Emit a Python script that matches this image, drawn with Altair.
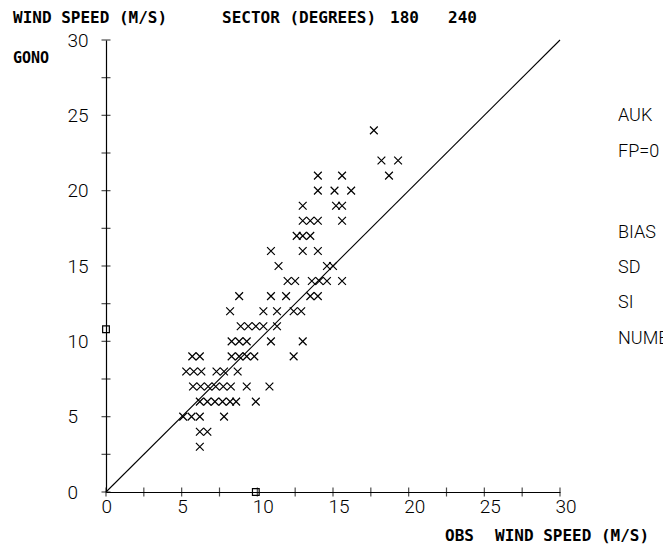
import altair as alt
import pandas as pd

# ---- data ----
gono_levels = [3, 4, 5, 6, 7, 8, 9, 10, 11, 12, 13, 14, 15, 16, 17, 18, 19, 20, 21, 22, 24]
obs_by_level = [
    [6.2],
    [6.2, 6.7],
    [5.1, 5.65, 6.2, 7.8],
    [6.2, 6.7, 7.2, 7.7, 8.2, 8.6, 9.9],
    [5.75, 6.25, 6.75, 7.25, 7.75, 8.25, 9.3, 10.8],
    [5.3, 5.8, 6.3, 7.3, 7.8, 8.7],
    [5.7, 6.2, 8.3, 8.8, 9.3, 9.8, 12.4],
    [8.3, 8.8, 9.3, 10.9, 13.0],
    [8.9, 9.4, 9.9, 10.4, 11.3],
    [8.2, 10.4, 11.3, 12.4, 12.9],
    [8.8, 10.9, 11.9, 13.5, 14.0],
    [12.0, 12.5, 13.6, 14.1, 14.6, 15.6],
    [11.4, 14.6, 15.0],
    [10.9, 13.0, 14.0],
    [12.6, 13.0, 13.5],
    [13.0, 13.5, 14.0, 15.6],
    [13.0, 15.2, 15.6],
    [14.0, 15.1, 16.2],
    [14.0, 15.6, 18.7],
    [18.2, 19.3],
    [17.7],
]
mean_obs = [9.9, 0.0]
mean_gono = [0.0, 10.8]
line_x = [0, 30]
line_y = [0, 30]
tick_values = [0, 2.5, 5, 7.5, 10, 12.5, 15, 17.5, 20, 22.5, 25, 27.5, 30]
label_values = [0, 5, 10, 15, 20, 25, 30]
right_labels = ["AUK", "FP=0", "BIAS", "SD", "SI", "NUMBER"]

# ---- tables ----
obs_list, gono_list = [], []
for lev, xs in zip(gono_levels, obs_by_level):
    for v in xs:
        obs_list.append(v)
        gono_list.append(lev)
pts = pd.DataFrame({"obs": obs_list, "gono": gono_list})
diag = pd.DataFrame({"obs": line_x, "gono": line_y})
means = pd.DataFrame({"obs": mean_obs, "gono": mean_gono})
ticks = pd.DataFrame({"v": tick_values})

LIGHT = "Roboto"
BOLD = "DejaVu Sans Mono"

xscale = alt.Scale(domain=[0, 30], nice=False, zero=False)
yscale = alt.Scale(domain=[0, 30], nice=False, zero=False)

xaxis = alt.Axis(values=label_values, title=None, grid=False, tickSize=0, ticks=False,
                 labelAlign="left", labelOffset=-5, labelPadding=5, labelBaseline="top",
                 labelFont=LIGHT, labelFontSize=19, labelFontWeight=300, labelColor="black",
                 domainColor="black", domainWidth=1.2, labelFlush=False)
yaxis = alt.Axis(values=label_values, title=None, grid=False, tickSize=0, ticks=False,
                 labelAlign="left", labelPadding=39, labelBaseline="middle",
                 labelFont=LIGHT, labelFontSize=19, labelFontWeight=300, labelColor="black",
                 domainColor="black", domainWidth=1.2, labelFlush=False)

base_x = alt.X("obs:Q", scale=xscale, axis=xaxis)
base_y = alt.Y("gono:Q", scale=yscale, axis=yaxis)

line = alt.Chart(diag).mark_line(color="black", strokeWidth=1.1).encode(x=base_x, y=base_y)

crosses = alt.Chart(pts).mark_point(
    shape="M-1,-1L1,1M-1,1L1,-1", filled=False, color="black", strokeWidth=1.2,
    size=60, opacity=1
).encode(x="obs:Q", y="gono:Q")

squares = alt.Chart(means).mark_point(
    shape="square", filled=False, color="black", strokeWidth=1.2, size=45, opacity=1
).encode(x="obs:Q", y="gono:Q")

yticks = alt.Chart(ticks).mark_tick(orient="horizontal", size=9, thickness=1.2, color="black").encode(
    y=alt.Y("v:Q"), x=alt.datum(0)
)
xticks = alt.Chart(ticks).mark_tick(orient="vertical", size=9, thickness=1.2, color="black").encode(
    x=alt.X("v:Q"), y=alt.datum(0)
)


def txt(s, x, y, font, size, weight, align="left"):
    return alt.Chart(pd.DataFrame({"t": [s]})).mark_text(
        font=font, fontSize=size, fontWeight=weight, align=align, baseline="middle", color="black"
    ).encode(text="t:N", x=alt.value(x), y=alt.value(y))


texts = [
    txt("WIND SPEED (M/S)", -93, -22, BOLD, 16, "bold"),
    txt("SECTOR (DEGREES)", 116, -22, BOLD, 16, "bold"),
    txt("180", 284, -22, BOLD, 16, "bold"),
    txt("240", 342, -22, BOLD, 16, "bold"),
    txt("GONO", -93, 18, BOLD, 15, "bold"),
    txt("OBS", 339, 496, BOLD, 16, "bold"),
    txt("WIND SPEED (M/S)", 389, 496, BOLD, 16, "bold"),
]
right_y = [76, 112, 193, 228, 263, 299]
for s, yy in zip(right_labels, right_y):
    texts.append(txt(s, 512, yy, LIGHT, 18, 300))

chart = alt.layer(line, crosses, squares, yticks, xticks, *texts).properties(
    width=454, height=452,
    autosize=alt.AutoSizeParams(type="none"),
    padding={"left": 98, "top": 32, "right": 103, "bottom": 54},
    background="white",
).configure_view(stroke=None)

chart.save("out.html", embed_options={"renderer": "svg", "actions": False})
